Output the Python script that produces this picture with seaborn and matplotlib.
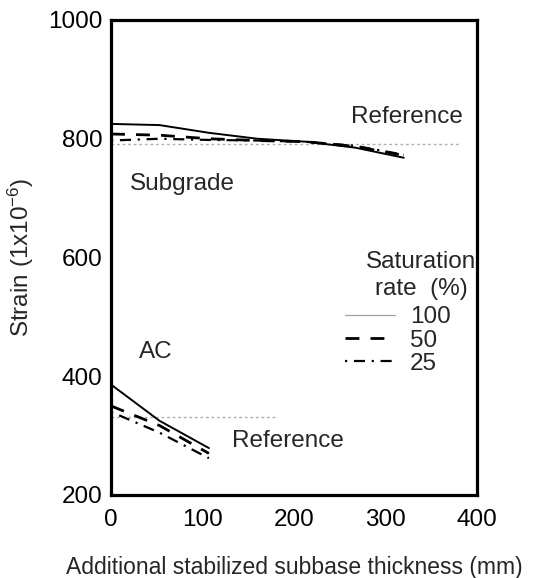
import matplotlib
matplotlib.use("Agg")
import matplotlib.pyplot as plt
from matplotlib.lines import Line2D
import seaborn as sns

sns.set_theme(style="white")
plt.rcParams['font.family'] = ['Liberation Sans', 'DejaVu Sans']
plt.rcParams['mathtext.fontset'] = 'custom'
plt.rcParams['mathtext.rm'] = 'Liberation Sans'
plt.rcParams['mathtext.it'] = 'Liberation Sans'

# ---- data ----
saturation = ["100", "50", "25"]
sub_x = [0, 53, 107, 160, 213, 267, 320]
sub_100 = [825, 823, 810, 800, 795, 785, 768]
sub_50 = [808, 806, 800, 797, 795, 787, 772]
sub_25 = [797, 800, 798, 797, 795, 788, 773]

ac_x = [0, 53, 107]
ac_100 = [386, 325, 279]
ac_50 = [350, 317, 270]
ac_25 = [340, 305, 262]

sub_ref_x = [0, 380]
sub_ref_y = [791, 791]
ac_ref_x = [0, 180]
ac_ref_y = [332, 332]

x_ticks = [0, 100, 200, 300, 400]
y_ticks = [200, 400, 600, 800, 1000]

styles = {
    "100": dict(color="black", lw=1.4, ls="-"),
    "50": dict(color="black", lw=2.0, ls=(0, (5, 4))),
    "25": dict(color="black", lw=1.6, ls=(0, (1, 3, 5, 3))),
}

FS = 17.5

fig = plt.figure(figsize=(5.48, 5.78), dpi=100)
ax = fig.add_axes([0.2026, 0.1436, 0.8704 - 0.2026, 0.9654 - 0.1436])

# reference lines
for rx, ry in [(sub_ref_x, sub_ref_y), (ac_ref_x, ac_ref_y)]:
    sns.lineplot(x=rx, y=ry, ax=ax, color="#b0b0b0", lw=1.0,
                 linestyle=(0, (2, 2)), legend=False)

series = [
    ("100", sub_x, sub_100), ("50", sub_x, sub_50), ("25", sub_x, sub_25),
    ("100", ac_x, ac_100), ("50", ac_x, ac_50), ("25", ac_x, ac_25),
]
for sat, xs, ys in series:
    st = styles[sat]
    sns.lineplot(x=xs, y=ys, ax=ax, color=st["color"], lw=st["lw"],
                 linestyle=st["ls"], legend=False)

ax.set_xlim(0, 400)
ax.set_ylim(200, 1000)
ax.set_xticks(x_ticks)
ax.set_yticks(y_ticks)
ax.tick_params(direction="in", length=8, width=1.5, labelsize=FS,
               colors="black")
ax.tick_params(axis="x", pad=10)
ax.tick_params(axis="y", pad=6)
for s in ax.spines.values():
    s.set_linewidth(2.3)
    s.set_color("black")

ax.set_xlabel("Additional stabilized subbase thickness (mm)", fontsize=16.5, labelpad=18)
ax.set_ylabel(r"Strain (1x10$^{-6}$)", fontsize=FS, labelpad=9)

ax.text(262, 836, "Reference", fontsize=FS, va="center")
ax.text(21, 723, "Subgrade", fontsize=FS, va="center")
ax.text(30, 440, "AC", fontsize=FS, va="center")
ax.text(132, 291, "Reference", fontsize=FS, va="center")

# legend title as centered text
ax.text(339, 570, "Saturation\nrate  (%)", fontsize=FS, ha="center",
        va="center", multialignment="center", linespacing=1.3)

handles = [
    Line2D([], [], color="#a0a0a0", lw=0.9, ls="-"),
    Line2D([], [], color="black", lw=2.0, ls=(0, (5, 4))),
    Line2D([], [], color="black", lw=1.6, ls=(0, (1, 3, 5, 3))),
]
leg = ax.legend(handles, saturation, loc="upper left",
                bbox_to_anchor=(0.639, 0.397),
                frameon=False, fontsize=FS,
                handlelength=2.06, handletextpad=0.62, labelspacing=0.05,
                borderaxespad=0, borderpad=0)

fig.savefig("out.png", dpi=100)
